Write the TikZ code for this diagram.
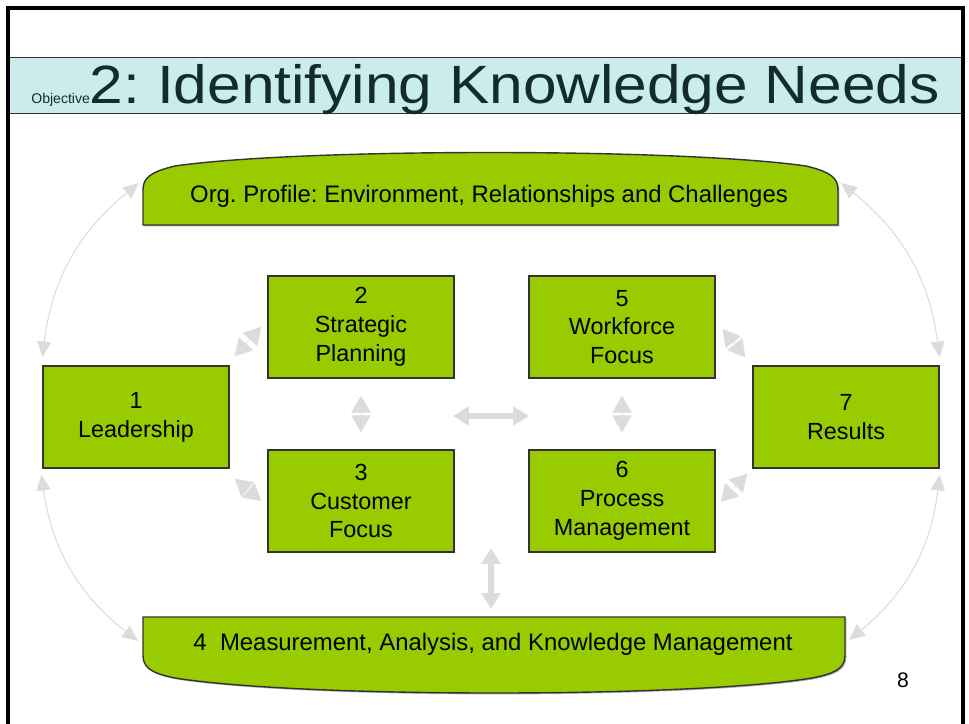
\documentclass[tikz,border=0pt]{standalone}
\usepackage{fontspec}
\setmainfont{Liberation Sans}
\newfontfamily\titlefont[FakeStretch=1.12]{Liberation Sans}
\usetikzlibrary{arrows.meta,shadows}
\definecolor{leaf}{HTML}{99CC00}
\definecolor{edge}{HTML}{333333}
\definecolor{mist}{HTML}{DCDCDC}
\definecolor{band}{HTML}{CAECEC}
\definecolor{ink}{HTML}{142B2B}
\frenchspacing
\begin{document}
\begin{tikzpicture}[x=0.02cm, y=-0.02cm,
  area/.style={draw=edge, fill=leaf, line width=0.8pt,
    drop shadow={shadow xshift=0.8pt, shadow yshift=-0.8pt, fill=black!30, opacity=1}},
  box/.style={area, minimum width=3.72cm, minimum height=2.04cm, align=center,
    inner sep=0pt, font=\fontsize{13.3}{16.4}\selectfont},
  caption/.style={font=\fontsize{13.6}{16}\selectfont},
  pair/.style={draw=mist, line width=0.2pt,
    {Triangle[width=11pt,length=9.6pt]}-{Triangle[width=11pt,length=9.6pt]}},
  link/.style={draw=mist, line width=0.6pt,
    {Triangle[width=8pt,length=9pt]}-{Triangle[width=8pt,length=9pt]}},
  block/.style={draw=mist, line width=3.6pt,
    {Triangle[width=10.5pt,length=9pt]}-{Triangle[width=10.5pt,length=9pt]}}]
  \useasboundingbox (0,0) rectangle (969,723);
  \fill[band] (8,57) rectangle (963,113);
  \draw[edge, line width=0.5pt] (8,57) -- (963,57) (8,113) -- (963,113);
  \draw[black, line width=1.8pt] (8,740) -- (8,8) -- (963,8) -- (963,740);
  \node[anchor=base west, inner sep=0pt, text=ink] (title) at (31,103)
    {{\fontsize{8}{10}\selectfont Objective}{\titlefont\fontsize{30.7}{36}\selectfont 2: Identifying Knowledge Needs}};

  \draw[area] (143,225) -- (143,190) .. controls (143,178) and (150,172) .. (175,166)
    .. controls (300,148) and (680,148) .. (806,166)
    .. controls (831,172) and (838,178) .. (838,190) -- (838,225) -- cycle;
  \node[caption] (prof) at (489,196) {Org. Profile: Environment, Relationships and Challenges};
  \draw[area] (143,617) -- (845,617) -- (845,655) .. controls (845,667) and (838,673) .. (812,678)
    .. controls (690,698) and (300,698) .. (175,678)
    .. controls (150,673) and (143,667) .. (143,655) -- cycle;
  \node[caption] (meas) at (493,644) {4\ \ Measurement, Analysis, and Knowledge Management};

  \node[box] (lead) at (136,417) {1\\Leadership};
  \node[box] (strat) at (361,327) {2\\Strategic\\Planning};
  \node[box] (cust) at (361,501) {3\\Customer\\Focus};
  \node[box] (work) at (622,327) {5\\Workforce\\Focus};
  \node[box] (proc) at (622,501) {6\\Process\\Management};
  \node[box] (res) at (846,417) {7\\Results};
  \node[font=\fontsize{12}{14}\selectfont] (page) at (903,680) {8};

  \coordinate (profW) at (139,183);
  \coordinate (profE) at (841,183);
  \coordinate (measW) at (138,641);
  \coordinate (measE) at (849,640);
  \coordinate (midL) at (453,416);
  \coordinate (midR) at (529,416);
  \coordinate (crossS) at (491,548);
  \coordinate (measN) at (491,609);

  \draw[pair] ([shift={(5,-9)}]lead.north east) -- ([shift={(-6,0)}]strat.west);
  \draw[pair] ([shift={(5,10)}]lead.south east) -- ([shift={(-6,0)}]cust.west);
  \draw[pair] ([shift={(0,17)}]strat.south) -- ([shift={(0,-17)}]cust.north);
  \draw[pair] ([shift={(0,17)}]work.south) -- ([shift={(0,-17)}]proc.north);
  \draw[pair] ([shift={(7,2)}]work.east) -- ([shift={(-7,-8)}]res.north west);
  \draw[pair] ([shift={(5,1)}]proc.east) -- ([shift={(-5,5)}]res.south west);
  \draw[block] (midL) -- (midR);
  \draw[block] (crossS) -- (measN);
  \draw[link] (profW) to[bend right=22] ([shift={(0,-8)}]lead.north west);
  \draw[link] ([shift={(-1,6)}]lead.south west) to[bend right=22] (measW);
  \draw[link] (profE) to[bend left=22] ([shift={(0,-8)}]res.north east);
  \draw[link] ([shift={(0,6)}]res.south east) to[bend left=22] (measE);
\end{tikzpicture}
\end{document}
